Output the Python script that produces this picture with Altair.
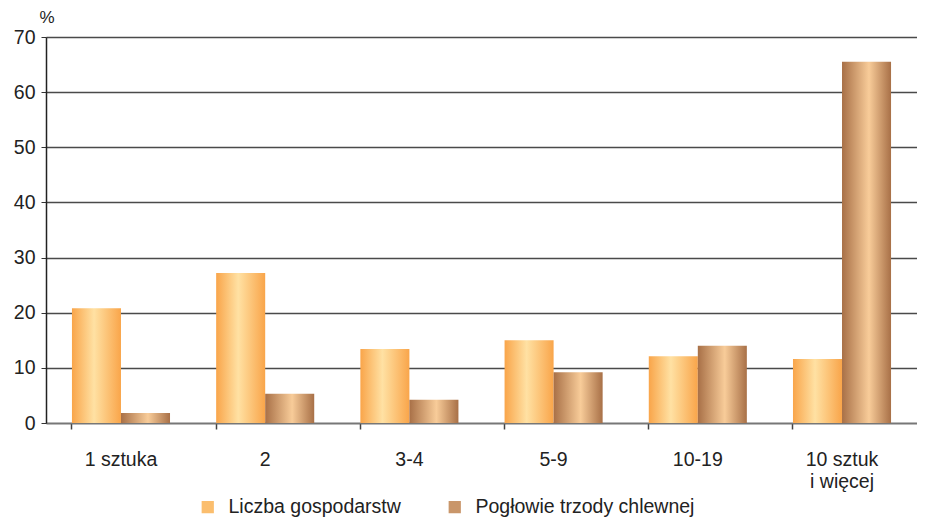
import altair as alt
import pandas as pd

categories = ["1 sztuka", "2", "3-4", "5-9", "10-19", "10 sztuk\ni więcej"]
series_names = ["Liczba gospodarstw", "Pogłowie trzody chlewnej"]
liczba = [20.8, 27.2, 13.4, 15.0, 12.1, 11.6]
poglowie = [1.8, 5.3, 4.2, 9.2, 14.0, 65.5]

rows = []
for c, a, b in zip(categories, liczba, poglowie):
    rows.append({"kat": c, "seria": series_names[0], "v": a})
    rows.append({"kat": c, "seria": series_names[1], "v": b})
df = pd.DataFrame(rows)

FONT = "Liberation Sans"
FS = 19.5

grad_orange = alt.LinearGradient(
    gradient="linear", x1=0, x2=1, y1=0, y2=0,
    stops=[alt.GradientStop(color="#F9A54A", offset=0),
           alt.GradientStop(color="#FFE1A3", offset=0.45),
           alt.GradientStop(color="#F9A54A", offset=1)])
grad_brown = alt.LinearGradient(
    gradient="linear", x1=0, x2=1, y1=0, y2=0,
    stops=[alt.GradientStop(color="#A87047", offset=0),
           alt.GradientStop(color="#F8CC99", offset=0.55),
           alt.GradientStop(color="#A87047", offset=1)])

x_enc = alt.X("kat:N", sort=categories,
              scale=alt.Scale(paddingInner=0.32, paddingOuter=0.18),
              axis=alt.Axis(title=None, labelAngle=0, bandPosition=0,
                            labelExpr="split(datum.label, '\\n')",
                            labelFontSize=FS, labelFont=FONT, labelColor="#222",
                            labelPadding=21, labelLineHeight=22,
                            tickSize=6, tickColor="#444", tickWidth=1.5,
                            domainColor="#777", domainWidth=1.5,
                            labelBaseline="top"))
y_enc = alt.Y("v:Q", scale=alt.Scale(domain=[0, 70], nice=False),
              axis=alt.Axis(values=[0, 10, 20, 30, 40, 50, 60, 70],
                            title="%", titleAngle=0, titleAlign="left",
                            titleBaseline="middle",
                            titleX=-7, titleY=-20, titleFontSize=17,
                            titleFontWeight="normal", titleFont=FONT, titleColor="#222",
                            labelFontSize=FS, labelFont=FONT, labelColor="#222",
                            labelPadding=6, tickSize=5, tickColor="#333",
                            domainColor="#222", domainWidth=1.5,
                            grid=True, gridColor="#4a4a4a", gridWidth=1.5))
xo = alt.XOffset("seria:N", scale=alt.Scale(domain=series_names, paddingInner=0, paddingOuter=0))

base = alt.Chart(df)

bars1 = base.transform_filter(alt.datum.seria == series_names[0]).mark_bar(
    color=grad_orange).encode(x=x_enc, y=y_enc, xOffset=xo)
bars2 = base.transform_filter(alt.datum.seria == series_names[1]).mark_bar(
    color=grad_brown).encode(x=x_enc, y=y_enc, xOffset=xo)

legend_layer = base.mark_bar(opacity=0).encode(
    x=x_enc, y=y_enc, xOffset=xo,
    color=alt.Color("seria:N", scale=alt.Scale(domain=series_names, range=["#FBBE6E", "#C9966A"]),
                    legend=alt.Legend(title=None, orient="none", direction="horizontal",
                                      legendX=152, legendY=460,
                                      symbolType="square", symbolSize=150, symbolOpacity=1,
                                      symbolStrokeWidth=0, labelLimit=400,
                                      labelFontSize=FS, labelFont=FONT, labelColor="#222",
                                      columnPadding=44, labelOffset=11)))

chart = alt.layer(bars1, bars2, legend_layer).properties(
    width=871, height=386,
    autosize=alt.AutoSizeParams(type="none"),
    padding={"left": 38, "top": 29, "right": 0, "bottom": 96},
).configure_view(stroke=None).configure(font=FONT)

chart.save("out.html", embed_options={"renderer": "svg", "actions": False})
